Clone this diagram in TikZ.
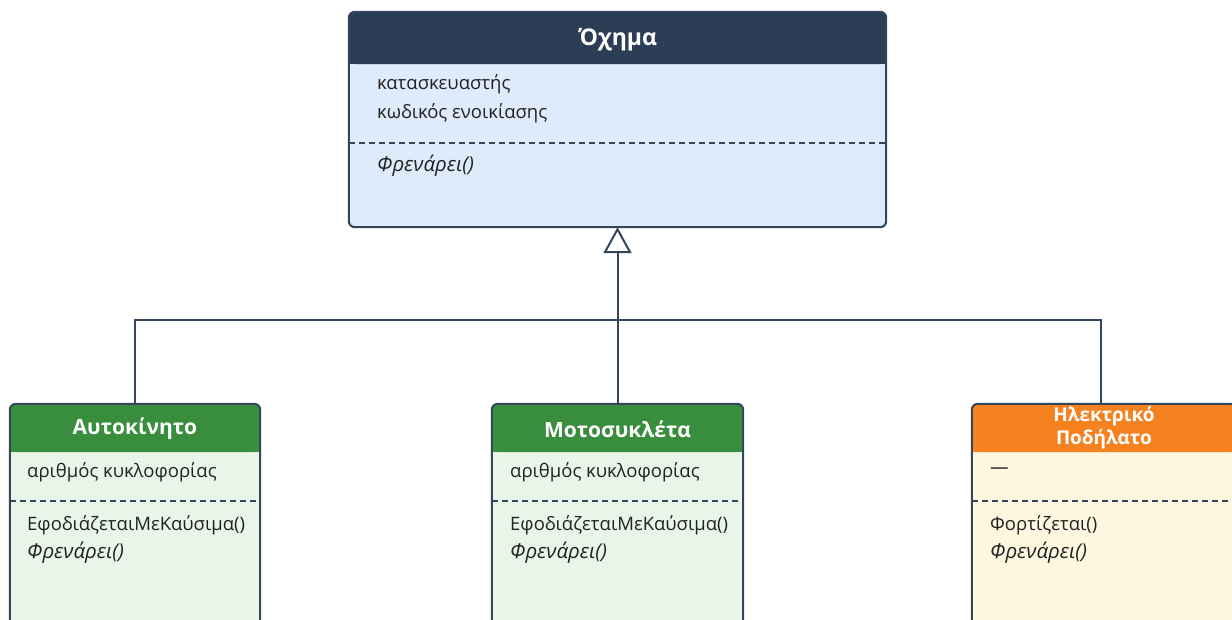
\documentclass[tikz,border=0pt]{standalone}
\usepackage{fontspec}
\setmainfont{Open Sans}
\usetikzlibrary{arrows.meta}
\definecolor{edge}{HTML}{34465C}
\definecolor{navyhead}{HTML}{2C3E56}
\definecolor{skyfill}{HTML}{DDEBFB}
\definecolor{greenhead}{HTML}{388E3C}
\definecolor{greenfill}{HTML}{E8F5E9}
\definecolor{orangehead}{HTML}{F5821F}
\definecolor{creamfill}{HTML}{FEF7E0}
\definecolor{ink}{HTML}{222222}
\tikzset{
  classbody/.style={inner sep=0pt, rounded corners=6pt},
  classframe/.style={draw=edge, line width=2pt, rounded corners=6pt},
  member/.style={anchor=west, inner sep=0pt, text=ink, font=\fontsize{18.5}{22}\selectfont},
  opmember/.style={member, font=\itshape\fontsize{20.5}{22}\selectfont},
  title/.style={inner sep=0pt, text=white, align=center, font=\bfseries\fontsize{21}{24}\selectfont},
  divider/.style={draw=edge, line width=1.2pt, dash pattern=on 6pt off 4pt},
  inherit/.style={draw=edge, line width=2pt, -{Triangle[open, width=28pt, length=26pt, line width=2pt]}},
  link/.style={draw=edge, line width=2pt}
}
\begin{document}
\begin{tikzpicture}[x=1pt,y=-1pt]
\useasboundingbox (0,0) rectangle (1232,619);
\clip (0,0) rectangle (1232,619);

% parent class
\node[classbody, fill=skyfill, minimum width=537pt, minimum height=215pt] (oxima) at (617.5,119.5) {};
\fill[navyhead, rounded corners=6pt] (oxima.north west) rectangle (886,64);
\fill[navyhead] (349,40) rectangle (886,64);
\draw[classframe] (oxima.north west) rectangle (oxima.south east);
\node[title, font=\bfseries\fontsize{23}{24}\selectfont] (oximatitle) at (618,40) {Όχημα};
\node[member] (oximaa) at (377,84) {κατασκευαστής};
\node[member] (oximab) at (377,113) {κωδικός ενοικίασης};
\draw[divider] (349,143) -- (886,143);
\node[opmember] (oximac) at (377,166) {Φρενάρει()};

% car
\node[classbody, fill=greenfill, minimum width=250pt, minimum height=276pt] (auto) at (135,542) {};
\fill[greenhead, rounded corners=6pt] (auto.north west) rectangle (260,452);
\fill[greenhead] (10,430) rectangle (260,452);
\draw[classframe] (auto.north west) rectangle (auto.south east);
\node[title] (autotitle) at (135,429) {Αυτοκίνητο};
\node[member] (autoa) at (27,472) {αριθμός κυκλοφορίας};
\draw[divider] (10,501) -- (260,501);
\node[member] (autob) at (27,525) {ΕφοδιάζεταιΜεΚαύσιμα()};
\node[opmember] (autoc) at (27,553) {Φρενάρει()};

% motorbike
\node[classbody, fill=greenfill, minimum width=251pt, minimum height=276pt] (moto) at (617.5,542) {};
\fill[greenhead, rounded corners=6pt] (moto.north west) rectangle (743,452);
\fill[greenhead] (492,430) rectangle (743,452);
\draw[classframe] (moto.north west) rectangle (moto.south east);
\node[title] (mototitle) at (617.5,429) {Μοτοσυκλέτα};
\node[member] (motoa) at (510,472) {αριθμός κυκλοφορίας};
\draw[divider] (492,501) -- (743,501);
\node[member] (motob) at (510,525) {ΕφοδιάζεταιΜεΚαύσιμα()};
\node[opmember] (motoc) at (510,553) {Φρενάρει()};

% e-bike
\node[classbody, fill=creamfill, minimum width=264pt, minimum height=276pt] (ebike) at (1104,542) {};
\fill[orangehead, rounded corners=6pt] (ebike.north west) rectangle (1236,452);
\fill[orangehead] (972,430) rectangle (1236,452);
\draw[classframe] (ebike.north west) rectangle (ebike.south east);
\node[title, font=\bfseries\fontsize{19}{23}\selectfont] (ebiketitle) at (1104,428) {Ηλεκτρικό\\Ποδήλατο};
\node[member] (ebikea) at (990,471) {—};
\draw[divider] (972,501) -- (1236,501);
\node[member] (ebikeb) at (990,525) {Φορτίζεται()};
\node[opmember] (ebikec) at (990,553) {Φρενάρει()};

% generalisation
\coordinate (joint) at (617.5,320);
\draw[inherit] (moto.north) -- (oxima.south);
\draw[link] (auto.north) |- (joint);
\draw[link] ([xshift=-3pt]ebike.north) |- (joint);
\end{tikzpicture}
\end{document}
